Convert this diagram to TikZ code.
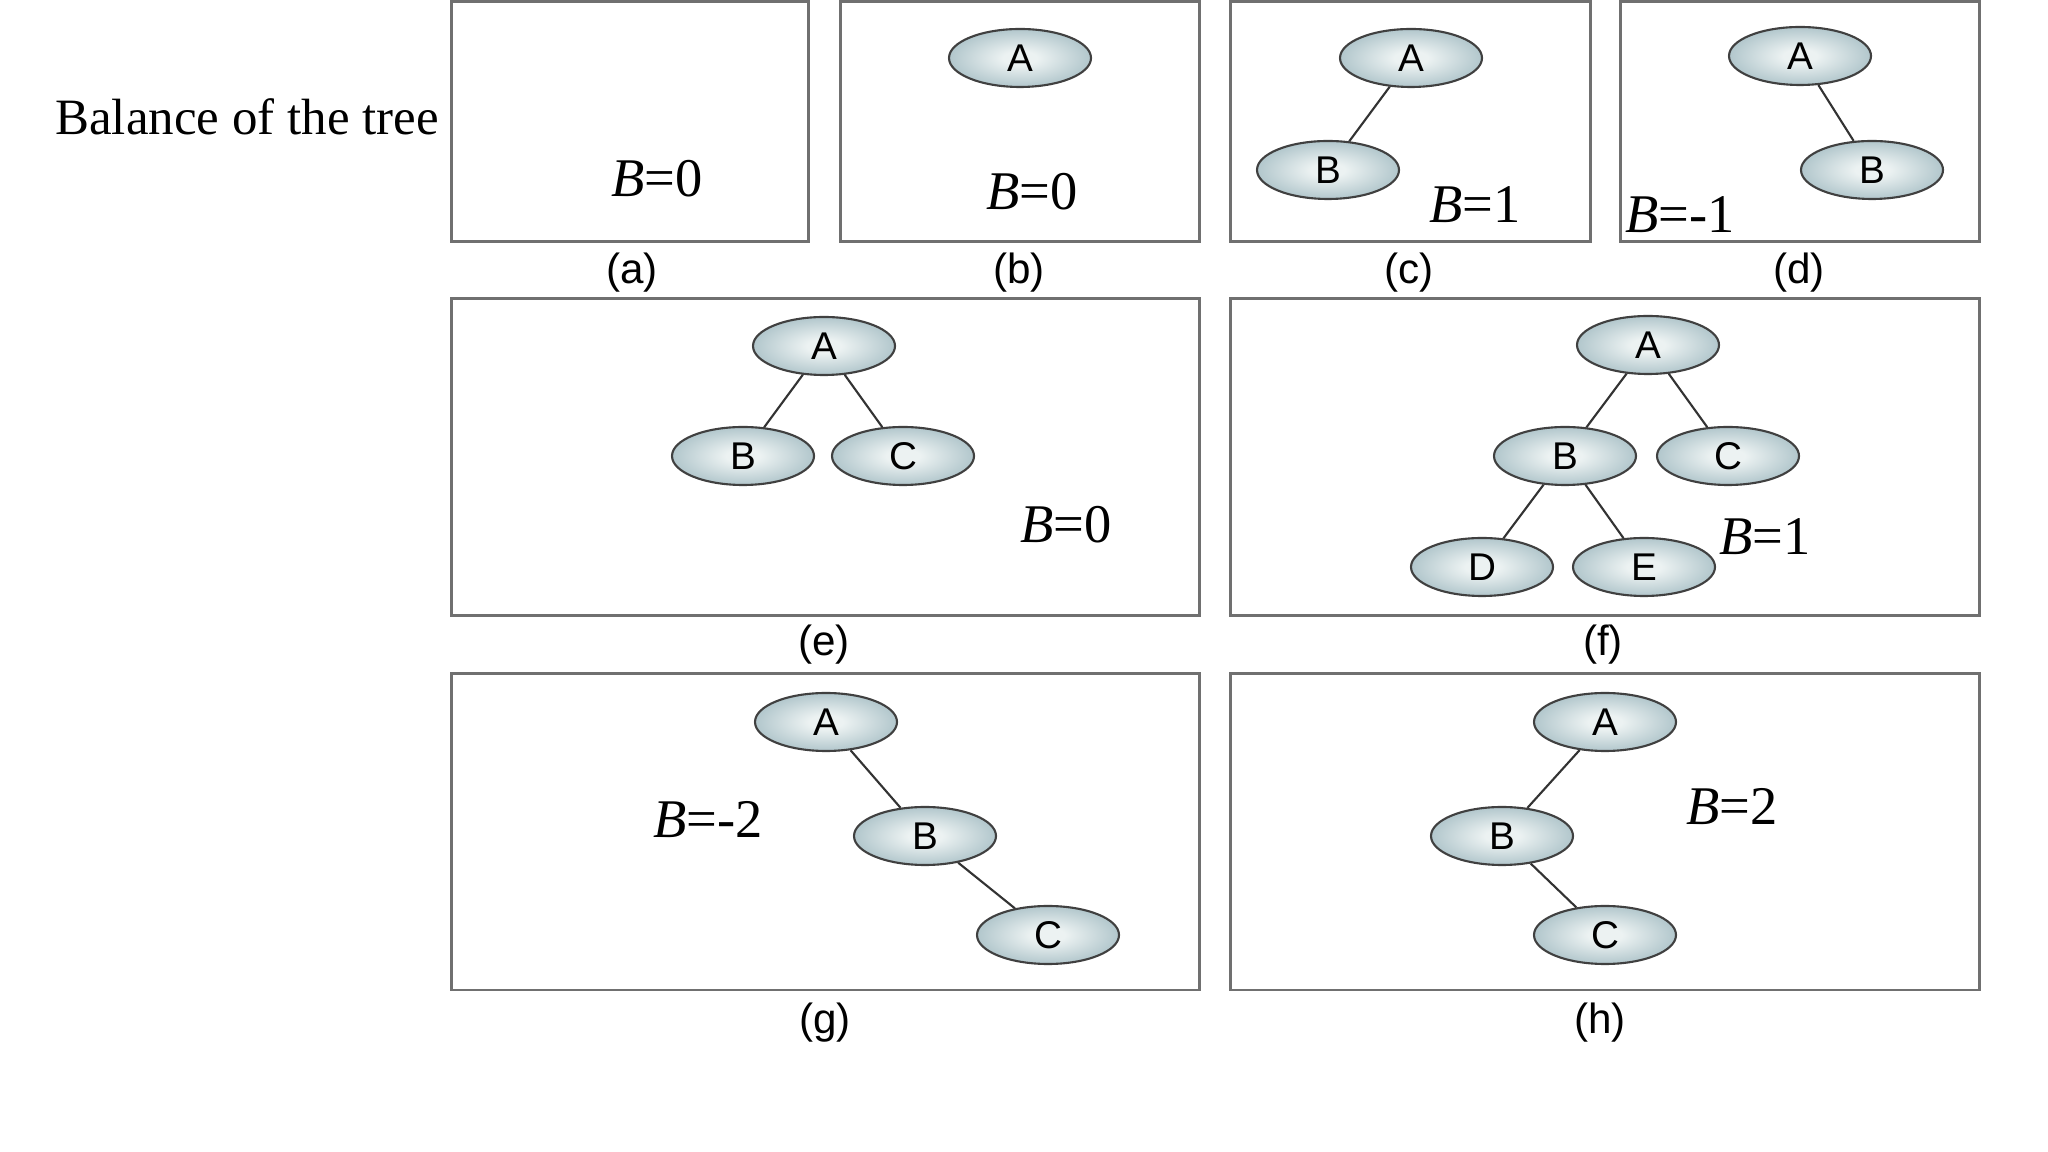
\documentclass[tikz,border=0pt]{standalone}
\usepackage{fontspec}
\setmainfont{Liberation Serif}
\setsansfont{Liberation Sans}
\usetikzlibrary{shapes.geometric}
\definecolor{ovaldark}{RGB}{150,178,186}
\definecolor{ovallight}{RGB}{236,242,242}
\definecolor{framegray}{RGB}{112,112,112}
\pgfdeclareradialshading{ovalshade}{\pgfpointorigin}{color(0bp)=(ovallight); color(6bp)=(ovallight); color(34bp)=(ovaldark); color(50bp)=(ovaldark)}

\begin{document}
\begin{tikzpicture}[
  x=0.1mm,y=-0.1mm,
  oval/.style={ellipse,draw=black!75,line width=0.6pt,shading=ovalshade,minimum width=14.2mm,minimum height=5.8mm,inner sep=0pt,font=\sffamily\fontsize{11}{12}\selectfont},
  panel/.style={draw=framegray,line width=0.85pt},
  edge/.style={draw=black!80,line width=0.6pt},
  bal/.style={font=\fontsize{15.5}{18}\selectfont,inner sep=0pt},
  subcap/.style={font=\sffamily\fontsize{12}{14}\selectfont,inner sep=0pt}
]
\useasboundingbox[fill=white] (0,0) rectangle (2048,1152);

\node[font=\fontsize{14.5}{17}\selectfont,inner sep=0pt] (title) at (247,117) {Balance of the tree};

% ---- row 1 : (a)--(d)
\draw[panel] (451,2) rectangle (808,242);
\draw[panel] (840,2) rectangle (1199,242);
\draw[panel] (1230,2) rectangle (1590,242);
\draw[panel] (1620,2) rectangle (1979,242);

\node[bal] (balA) at (657,179) {\textit{B}=0};

\node[oval] (bA) at (1020,58) {A};
\node[bal] (balB) at (1032,192) {\textit{B}=0};

\node[oval] (cA) at (1411,58) {A};
\node[oval] (cB) at (1328,170) {B};
\draw[edge] (cA) -- (cB);
\node[bal] (balC) at (1475,205) {\textit{B}=1};

\node[oval] (dA) at (1800,56) {A};
\node[oval] (dB) at (1872,170) {B};
\draw[edge] (dA) -- (dB);
\node[bal] (balD) at (1680,215) {\textit{B}=-1};

\node[subcap] (capa) at (632,273) {(a)};
\node[subcap] (capb) at (1019,273) {(b)};
\node[subcap] (capc) at (1409,273) {(c)};
\node[subcap] (capd) at (1799,273) {(d)};

% ---- row 2 : (e), (f)
\draw[panel] (451,299) rectangle (1199,616);
\draw[panel] (1230,299) rectangle (1979,616);

\node[oval] (eA) at (824,346) {A};
\node[oval] (eB) at (743,456) {B};
\node[oval] (eC) at (903,456) {C};
\draw[edge] (eA) -- (eB); \draw[edge] (eA) -- (eC);
\node[bal] (balE) at (1066,525) {\textit{B}=0};

\node[oval] (fA) at (1648,345) {A};
\node[oval] (fB) at (1565,456) {B};
\node[oval] (fC) at (1728,456) {C};
\node[oval] (fD) at (1482,567) {D};
\node[oval] (fE) at (1644,567) {E};
\draw[edge] (fA) -- (fB); \draw[edge] (fA) -- (fC);
\draw[edge] (fB) -- (fD); \draw[edge] (fB) -- (fE);
\node[bal] (balF) at (1765,537) {\textit{B}=1};

\node[subcap] (cape) at (824,645) {(e)};
\node[subcap] (capf) at (1603,645) {(f)};

% ---- row 3 : (g), (h)
\draw[panel] (451,674) rectangle (1199,990);
\draw[panel] (1230,674) rectangle (1979,990);

\node[oval] (gA) at (826,722) {A};
\node[oval] (gB) at (925,836) {B};
\node[oval] (gC) at (1048,935) {C};
\draw[edge] (gA) -- (gB); \draw[edge] (gB) -- (gC);
\node[bal] (balG) at (708,820) {\textit{B}=-2};

\node[oval] (hA) at (1605,722) {A};
\node[oval] (hB) at (1502,836) {B};
\node[oval] (hC) at (1605,935) {C};
\draw[edge] (hA) -- (hB); \draw[edge] (hB) -- (hC);
\node[bal] (balH) at (1732,807) {\textit{B}=2};

\node[subcap] (capg) at (825,1023) {(g)};
\node[subcap] (caph) at (1600,1023) {(h)};
\end{tikzpicture}
\end{document}
